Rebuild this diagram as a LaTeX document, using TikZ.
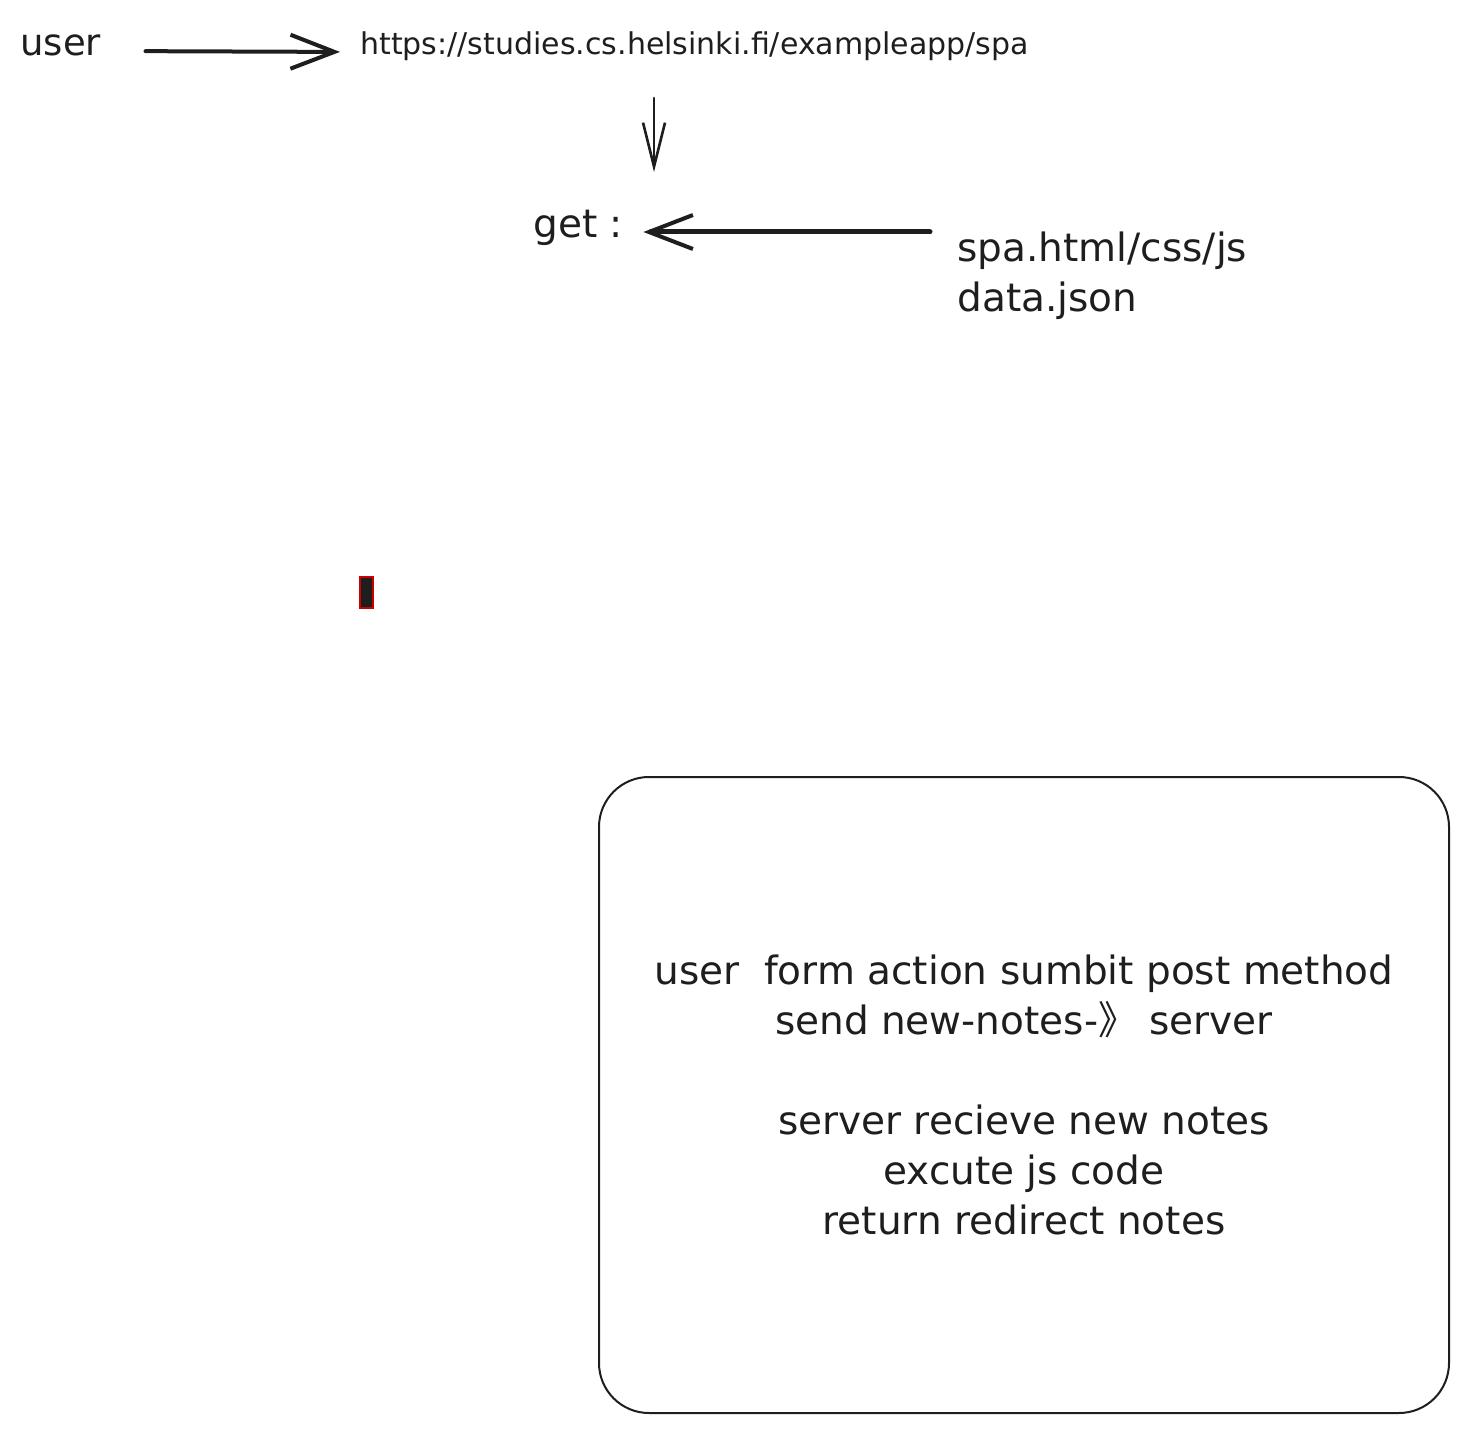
\documentclass[tikz,border=0pt]{standalone}
\usepackage{fontspec}
\setmainfont{DejaVu Sans}
\newfontfamily\cjk{Noto Sans CJK SC}
\usetikzlibrary{arrows.meta}
\definecolor{ink}{HTML}{1E1E1E}
\begin{document}
\begin{tikzpicture}[x=0.5pt, y=-0.5pt,
   every node/.style={inner sep=0pt, text=ink},
   big/.style={font=\fontsize{19.5pt}{25pt}\selectfont},
   small/.style={font=\fontsize{15pt}{18pt}\selectfont},
   arr/.style={draw=ink, line width=2pt, line cap=round,
     -{Straight Barb[length=22pt, width=17pt, line width=2pt]}},
   thinarr/.style={draw=ink, line width=1.3pt, line cap=round,
     -{Straight Barb[length=22pt, width=11pt, line width=1.3pt]}}]

\useasboundingbox (0,0) rectangle (1468,1433);

\node[big, font=\fontsize{18.5pt}{25pt}\selectfont, anchor=west] (user) at (20,45) {user};
\node[small, anchor=west] (url) at (360,46) {https://studies.cs.helsinki.fi/exampleapp/spa};
\node[big, anchor=west] (get) at (533,228) {get :};
\node[big, anchor=north west, align=left] (files) at (957,231)
    {spa.html/css/js\\data.json};

\coordinate (down1) at (654,98);
\coordinate (down2) at (654,172);
\coordinate (fromfiles) at (930,232);

\draw[arr, shorten <=22pt, shorten >=10pt] ([yshift=-3pt]user.east) -- ([yshift=-3pt]url.west);
\draw[thinarr] (down1) -- (down2);
\draw[arr, line width=2.5pt, shorten >=10pt] (fromfiles) -- (get.east |- fromfiles);

% small selected mark
\draw[red!80!black, fill=ink, line width=0.8pt] (360,577) rectangle (373,608);

% note box
\draw[ink, line width=1pt, rounded corners=25pt] (599,777) rectangle (1449,1413);
\node[big, align=center] (note) at (1024,1095)
    {user\ \ form action sumbit post method\\
     send new-notes-{\cjk 》}\ server\\[25pt]
     server recieve new notes\\
     excute js code\\
     return redirect notes};

\end{tikzpicture}
\end{document}
